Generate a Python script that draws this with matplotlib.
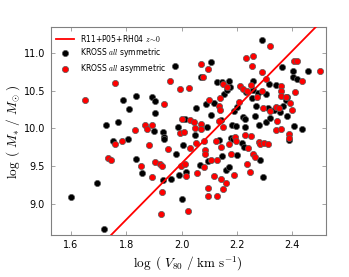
import matplotlib
matplotlib.use("Agg")
import matplotlib.pyplot as plt
import numpy as np

plt.rcParams['mathtext.fontset'] = 'cm'
plt.rcParams['font.family'] = 'DejaVu Sans'

# symmetric (black)
sym_x = [1.600, 1.696, 1.720, 1.728, 1.769, 1.754, 1.790, 1.812, 1.808, 1.836,
         1.834, 1.858, 1.892, 1.906, 1.906, 1.902, 1.933, 1.937, 1.937, 1.933,
         1.961, 1.978, 1.981, 1.988, 1.990, 2.000, 2.007, 2.014, 2.017, 2.051,
         2.048, 2.067, 2.070, 2.089, 2.092, 2.096, 2.108, 2.108, 2.116, 2.130,
         2.135, 2.142, 2.147, 2.147, 2.154, 2.164, 2.171, 2.176, 2.161, 2.171,
         2.178, 2.186, 2.183, 2.190, 2.198, 2.202, 2.200, 2.217, 2.222, 2.229,
         2.229, 2.227, 2.234, 2.253, 2.258, 2.260, 2.267, 2.270, 2.275, 2.280,
         2.282, 2.292, 2.296, 2.304, 2.306, 2.311, 2.316, 2.320, 2.333, 2.342,
         2.357, 2.364, 2.366, 2.376, 2.381, 2.383, 2.390, 2.402, 2.402, 2.405,
         2.419, 2.436, 2.458]
sym_y = [9.10, 9.28, 8.68, 10.04, 10.08, 9.84, 10.38, 10.26, 9.86, 10.43,
         9.60, 9.42, 10.41, 10.36, 10.20, 9.97, 9.95, 9.89, 9.86, 9.32,
         9.34, 10.82, 9.67, 10.02, 9.39, 9.07, 9.78, 10.12, 9.43, 10.27,
         9.92, 9.52, 10.68, 10.32, 10.02, 9.57, 10.87, 10.18, 10.34, 10.61,
         9.85, 10.11, 9.64, 10.61, 10.45, 10.51, 10.62, 10.54, 9.46, 9.49,
         9.88, 9.86, 10.05, 10.23, 10.03, 9.65, 10.28, 9.81, 10.15, 10.12,
         10.02, 9.75, 10.48, 10.40, 10.51, 10.62, 10.16, 10.30, 10.47, 10.05,
         9.58, 11.17, 9.36, 10.45, 10.09, 10.27, 10.59, 10.14, 10.25, 10.57,
         10.22, 10.81, 10.30, 10.37, 10.16, 10.41, 9.85, 10.68, 10.76, 10.03,
         10.65, 9.99, 10.76]

# asymmetric (red)
asy_x = [1.651, 1.761, 1.735, 1.747, 1.761, 1.786, 1.831, 1.853, 1.867, 1.877,
         1.894, 1.884, 1.892, 1.906, 1.923, 1.930, 1.928, 1.925, 1.937, 1.952,
         1.957, 1.993, 1.995, 2.000, 1.998, 2.012, 2.010, 2.017, 2.024, 2.026,
         2.029, 2.031, 2.046, 2.048, 2.051, 2.055, 2.072, 2.077, 2.070, 2.072,
         2.080, 2.080, 2.084, 2.084, 2.094, 2.094, 2.094, 2.101, 2.108, 2.116,
         2.125, 2.130, 2.130, 2.135, 2.137, 2.140, 2.142, 2.142, 2.149, 2.149,
         2.151, 2.159, 2.140, 2.166, 2.173, 2.178, 2.188, 2.195, 2.198, 2.207,
         2.212, 2.224, 2.229, 2.234, 2.236, 2.237, 2.240, 2.249, 2.252, 2.252,
         2.257, 2.255, 2.257, 2.265, 2.272, 2.280, 2.284, 2.292, 2.292, 2.294,
         2.299, 2.304, 2.313, 2.318, 2.320, 2.340, 2.342, 2.345, 2.352, 2.359,
         2.359, 2.359, 2.359, 2.378, 2.393, 2.388, 2.390, 2.400, 2.405, 2.417,
         2.410, 2.434, 2.499]
asy_y = [10.38, 10.60, 9.61, 9.58, 9.80, 9.83, 9.98, 9.51, 10.05, 9.99,
         10.04, 9.78, 9.36, 9.56, 9.53, 9.50, 9.17, 8.87, 10.32, 9.73,
         10.62, 10.52, 9.94, 10.12, 9.50, 9.53, 9.95, 9.38, 8.92, 10.53,
         10.11, 9.74, 10.09, 10.00, 9.81, 9.42, 10.85, 10.68, 10.06, 9.99,
         9.83, 9.49, 9.72, 9.67, 10.78, 9.22, 9.11, 10.37, 9.58, 9.38,
         9.84, 9.58, 9.11, 10.30, 10.10, 10.40, 9.75, 9.33, 10.02, 10.58,
         9.21, 9.28, 10.24, 10.54, 9.79, 9.66, 9.39, 9.89, 9.83, 10.35,
         10.56, 10.52, 9.92, 10.93, 10.49, 9.53, 9.74, 9.43, 9.90, 10.57,
         10.96, 10.82, 9.67, 9.63, 10.42, 9.82, 9.80, 10.75, 10.49, 10.27,
         9.81, 10.65, 9.80, 11.08, 10.23, 10.28, 9.98, 10.10, 10.27, 10.56,
         10.50, 10.43, 9.99, 10.42, 10.34, 9.93, 9.87, 10.25, 10.89, 10.89,
         10.48, 10.62, 10.76]

# relation: log M = slope * log V + intercept
rel_slope = 3.70
rel_intercept = 2.14
rel_x = [1.5, 2.6]

xticks = [1.6, 1.8, 2.0, 2.2, 2.4]
yticks = [9.0, 9.5, 10.0, 10.5, 11.0]

fig = plt.figure(figsize=(3.49, 2.77), dpi=100)
ax = fig.add_axes([0.145, 0.152, 0.789, 0.749])

rx = np.array(rel_x)
ax.plot(rx, rel_slope * rx + rel_intercept, color='red', lw=1.3,
        label=r'R11+P05+RH04 $z\!\sim\!0$', zorder=3)
ax.scatter(sym_x, sym_y, s=20, c='black', edgecolors='0.35', linewidths=0.5,
           label=r'KROSS $\mathit{all}$ symmetric', zorder=2)
ax.scatter(asy_x, asy_y, s=20, c='red', edgecolors='0.35', linewidths=0.5,
           label=r'KROSS $\mathit{all}$ asymmetric', zorder=2)

ax.set_xlim(1.527, 2.522)
ax.set_ylim(8.60, 11.33)
ax.set_xticks(xticks)
ax.set_yticks(yticks)
ax.set_xticklabels([f'{t:.1f}' for t in xticks])
ax.set_yticklabels([f'{t:.1f}' for t in yticks])
ax.tick_params(direction='in', top=True, right=True, labelsize=7,
               length=3, width=0.5, color='0.5', pad=4)
for s in ax.spines.values():
    s.set_color('0.5')
    s.set_linewidth(0.8)

ax.set_xlabel(r'$\log\ (\ V_{80}\ /\ \mathrm{km\ s^{-1}})$', fontsize=9.5, labelpad=3)
ax.set_ylabel(r'$\log\ (\ M_{*}\ /\ M_{\odot}\ )$', fontsize=9.5, labelpad=1)

ax.legend(loc='upper left', frameon=False, fontsize=5.5, handlelength=2.4,
          scatterpoints=1, borderaxespad=0.3, labelspacing=0.35, handletextpad=0.8)

fig.savefig('out.png', dpi=100)
